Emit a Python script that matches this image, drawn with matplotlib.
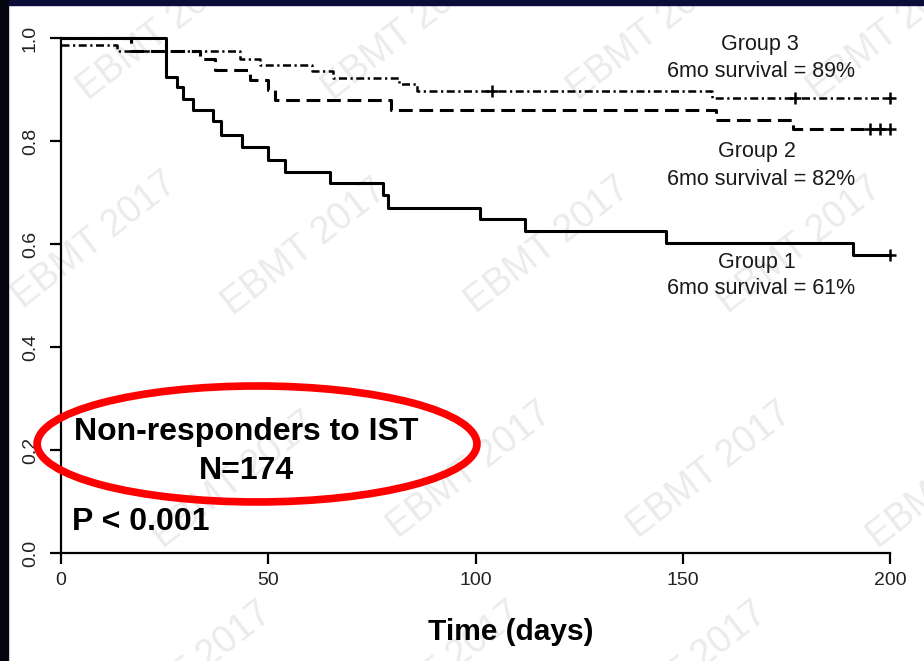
import numpy as np
import matplotlib.pyplot as plt
from matplotlib.patches import Ellipse, Rectangle

plt.rcParams['font.family'] = ['Liberation Sans', 'DejaVu Sans']

# Kaplan-Meier steps (time in days, survival)
g1_t = [0, 25.3, 27.9, 29.5, 31.9, 36.7, 38.7, 43.7, 50.0, 54.0, 64.9, 77.7, 78.9, 101, 112, 146, 191, 200]
g1_s = [1.0, 0.925, 0.905, 0.881, 0.860, 0.838, 0.812, 0.789, 0.764, 0.740, 0.718, 0.695, 0.670, 0.648, 0.625,
        0.601, 0.579, 0.579]
g1_cens_t = [200]
g1_cens_s = [0.579]

g2_t = [0, 17, 33.5, 37.1, 45.6, 50.0, 51.6, 79.5, 158, 176.6, 200]
g2_s = [1.0, 0.974, 0.959, 0.938, 0.918, 0.900, 0.880, 0.860, 0.841, 0.823, 0.823]
g2_cens_t = [195.1, 197.5, 200]
g2_cens_s = [0.823, 0.823, 0.823]

g3_t = [0, 13.4, 43.2, 48, 60.5, 65.7, 81.5, 86, 157, 200]
g3_s = [0.987, 0.975, 0.960, 0.948, 0.935, 0.922, 0.910, 0.897, 0.884, 0.884]
g3_cens_t = [103.9, 177, 200]
g3_cens_s = [0.897, 0.884, 0.884]

xticks = [0, 50, 100, 150, 200]
yticks = [0.0, 0.2, 0.4, 0.6, 0.8, 1.0]

W, H = 924, 661
fig = plt.figure(figsize=(W / 100, H / 100), dpi=100)
fig.patch.set_facecolor('white')

# dark slide border
fig.patches.append(Rectangle((0, 1 - 5 / H), 1, 5 / H, transform=fig.transFigure,
                             color='#0c0c38', zorder=5))
fig.patches.append(Rectangle((0, 0), 8 / W, 1, transform=fig.transFigure,
                             color='#050510', zorder=5))

# watermarks
wm = [(160, 32), (405, 32), (650, 32), (890, 32),
      (95, 240), (305, 247), (548, 245), (800, 245),
      (235, 480), (470, 470), (710, 470), (950, 480),
      (190, 670), (440, 670), (685, 670)]
for px, py in wm:
    fig.text(px / W, 1 - py / H, "EBMT 2017", fontsize=27, color='#ebebeb',
             rotation=38, ha='center', va='center', rotation_mode='anchor', zorder=-1)

ax = fig.add_axes([61 / W, 1 - 553 / H, (890 - 61) / W, (553 - 38) / H])
ax.patch.set_alpha(0)
ax.set_xlim(0, 200)
ax.set_ylim(0, 1)

ax.step(g1_t, g1_s, where='post', color='black', lw=2.2, clip_on=False)
ax.step(g2_t, g2_s, where='post', color='black', lw=2.2, ls=(0, (4.5, 2.2)), clip_on=False)
ax.step(g3_t, g3_s, where='post', color='black', lw=1.8, ls=(0, (3.2, 1.4, 0.9, 1.4)), clip_on=False)
for ct, cs in [(g1_cens_t, g1_cens_s), (g2_cens_t, g2_cens_s), (g3_cens_t, g3_cens_s)]:
    ax.plot(ct, cs, ls='none', marker='+', color='black', ms=8, mew=1.8, clip_on=False)

for s in ['top', 'right']:
    ax.spines[s].set_visible(False)
for s in ['left', 'bottom']:
    ax.spines[s].set_linewidth(1.6)
ax.set_xticks(xticks)
ax.set_xticklabels([str(v) for v in xticks])
ax.set_yticks(yticks)
ax.set_yticklabels(["%.1f" % v for v in yticks], rotation=90, va='center')
ax.tick_params(length=8, width=1.6, labelsize=14, labelcolor='#222222')
ax.tick_params(axis='y', pad=8)
ax.tick_params(axis='x', pad=6)

# group labels
ax.text(168.6, 0.988, "Group 3", fontsize=15.5, ha='center', va='center', color='#1a1a1a')
ax.text(168.8, 0.934, "6mo survival = 89%", fontsize=15.5, ha='center', va='center', color='#1a1a1a')
ax.text(167.9, 0.779, "Group 2", fontsize=15.5, ha='center', va='center', color='#1a1a1a')
ax.text(168.8, 0.726, "6mo survival = 82%", fontsize=15.5, ha='center', va='center', color='#1a1a1a')
ax.text(167.9, 0.565, "Group 1", fontsize=15.5, ha='center', va='center', color='#1a1a1a')
ax.text(168.8, 0.513, "6mo survival = 61%", fontsize=15.5, ha='center', va='center', color='#1a1a1a')

ax.text(44.8, 0.2355, "Non-responders to IST", fontsize=23, fontweight='bold', ha='center', va='center')
ax.text(44.8, 0.160, "N=174", fontsize=23, fontweight='bold', ha='center', va='center')
ax.text(2.65, 0.061, "P < 0.001", fontsize=23, fontweight='bold', ha='left', va='center')

ax.add_patch(Ellipse((47.3, 0.2117), 106.1, 0.2252, fill=False, edgecolor='#ff0000', lw=5.5,
                     clip_on=False, zorder=6))

fig.text(511 / W, 1 - 632 / H, "Time (days)", fontsize=21.5, fontweight='bold', ha='center', va='center')

fig.savefig('out.png', dpi=100)
